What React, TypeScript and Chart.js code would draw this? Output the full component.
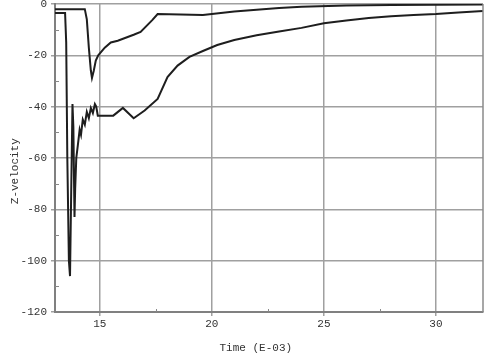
import React, { useEffect, useRef } from "react";
import { Chart, registerables } from "chart.js";

Chart.register(...registerables);

// Upper curve
const timeA = [13.0, 14.33, 14.42, 14.51, 14.6, 14.65, 14.73, 14.82, 14.93, 15.22, 15.49, 15.8, 16.51, 16.82, 17.35, 17.58, 18.6, 19.6, 20.4, 21, 22, 23, 24, 26, 28, 30, 32.1];
const velA = [-2, -2, -6, -17, -26, -28.8, -26, -22, -20, -17, -15, -14.3, -12, -10.9, -6.2, -3.9, -4.1, -4.3, -3.5, -2.9, -2.2, -1.6, -1.1, -0.6, -0.4, -0.3, -0.2];

// Lower curve
const timeB = [13.0, 13.45, 13.5, 13.55, 13.62, 13.67, 13.72, 13.78, 13.82, 13.87, 13.9, 13.95, 14.02, 14.1, 14.16, 14.24, 14.33, 14.42, 14.51, 14.6, 14.69, 14.78, 14.84, 14.91, 15.0, 15.6, 16.03, 16.51, 17.0, 17.58, 18.02, 18.47, 19.0, 19.6, 20.24, 21, 22, 23, 24, 25, 26, 27, 28, 29, 30, 31, 32.1];
const velB = [-3.5, -3.5, -15, -60, -100, -106, -75, -39, -48, -83, -72, -60, -55, -49, -51, -45, -47, -42, -44.5, -40.5, -42.5, -39, -40, -43.5, -43.5, -43.5, -40.5, -44.5, -41.5, -37, -28.5, -24, -20.6, -18.3, -16, -14, -12.2, -10.7, -9.3, -7.5, -6.4, -5.5, -4.8, -4.3, -3.9, -3.3, -2.7];

const xTicks = [15, 20, 25, 30];
const xMinor = [17.5, 22.5, 27.5];
const yMinor = [-10, -30, -50, -70, -90, -110];

const FONT = "'Liberation Mono', 'DejaVu Sans Mono', monospace";

export default function App() {
  const ref = useRef<HTMLCanvasElement | null>(null);

  useEffect(() => {
    document.body.style.margin = "0";
    const canvas = ref.current;
    if (!canvas) return;

    const frame = {
      id: "frameMinor",
      afterDatasetsDraw(chart: any) {
        const { ctx, chartArea, scales } = chart;
        ctx.save();
        ctx.strokeStyle = "#8a8a8a";
        ctx.lineWidth = 1.5;
        ctx.beginPath();
        ctx.moveTo(chartArea.right, chartArea.top);
        ctx.lineTo(chartArea.right, chartArea.bottom);
        ctx.stroke();
        ctx.lineWidth = 1;
        ctx.strokeStyle = "#888";
        ctx.beginPath();
        for (const v of yMinor) {
          const py = Math.round(scales.y.getPixelForValue(v)) + 0.5;
          ctx.moveTo(chartArea.left, py);
          ctx.lineTo(chartArea.left + 4, py);
        }
        for (const v of xMinor) {
          const px = Math.round(scales.x.getPixelForValue(v)) + 0.5;
          ctx.moveTo(px, chartArea.bottom);
          ctx.lineTo(px, chartArea.bottom - 3);
        }
        ctx.stroke();
        ctx.restore();
      },
    };

    const chart = new Chart(canvas, {
      type: "line",
      data: {
        datasets: [
          {
            data: timeA.map((t, i) => ({ x: t, y: velA[i] })),
            borderColor: "#1e1e1e",
            borderWidth: 2,
            pointRadius: 0,
            tension: 0,
            fill: false,
          },
          {
            data: timeB.map((t, i) => ({ x: t, y: velB[i] })),
            borderColor: "#1e1e1e",
            borderWidth: 2,
            pointRadius: 0,
            tension: 0,
            fill: false,
          },
        ],
      },
      options: {
        animation: false,
        responsive: false,
        events: [],
        layout: { padding: { top: 4, right: 2, left: 0, bottom: 0 } },
        plugins: { legend: { display: false }, tooltip: { enabled: false } },
        scales: {
          x: {
            type: "linear",
            min: 13,
            max: 32.1,
            afterBuildTicks: (scale: any) => {
              scale.ticks = xTicks.map((v) => ({ value: v }));
            },
            afterFit: (scale: any) => {
              scale.height = 43;
              scale.paddingLeft = 0;
              scale.paddingRight = 0;
            },
            grid: { color: "#a0a0a0", lineWidth: 1.5, tickLength: 4, drawTicks: true },
            border: { color: "#808080", width: 2 },
            ticks: {
              color: "#333",
              font: { family: FONT, size: 11 },
              padding: 1,
              maxRotation: 0,
              autoSkip: false,
            },
            title: {
              display: true,
              text: "Time (E-03)    ",
              color: "#333",
              font: { family: FONT, size: 11 },
              padding: { top: 0, bottom: 0 },
            },
          },
          y: {
            type: "linear",
            min: -120,
            max: 0,
            ticks: {
              stepSize: 20,
              color: "#333",
              font: { family: FONT, size: 11 },
              padding: 4,
            },
            afterFit: (scale: any) => {
              scale.width = 55;
              scale.paddingTop = 0;
              scale.paddingBottom = 0;
            },
            grid: { color: "#a0a0a0", lineWidth: 1.5, tickLength: 4, drawTicks: true },
            border: { color: "#808080", width: 2 },
            title: {
              display: true,
              text: "Z-velocity    ",
              color: "#333",
              font: { family: FONT, size: 11 },
              padding: { top: 8, bottom: 0 },
            },
          },
        },
      },
      plugins: [frame],
    });

    return () => chart.destroy();
  }, []);

  return (
    <div style={{ width: 485, height: 355, background: "#fff" }}>
      <canvas ref={ref} width={485} height={355} style={{ display: "block" }} />
    </div>
  );
}
